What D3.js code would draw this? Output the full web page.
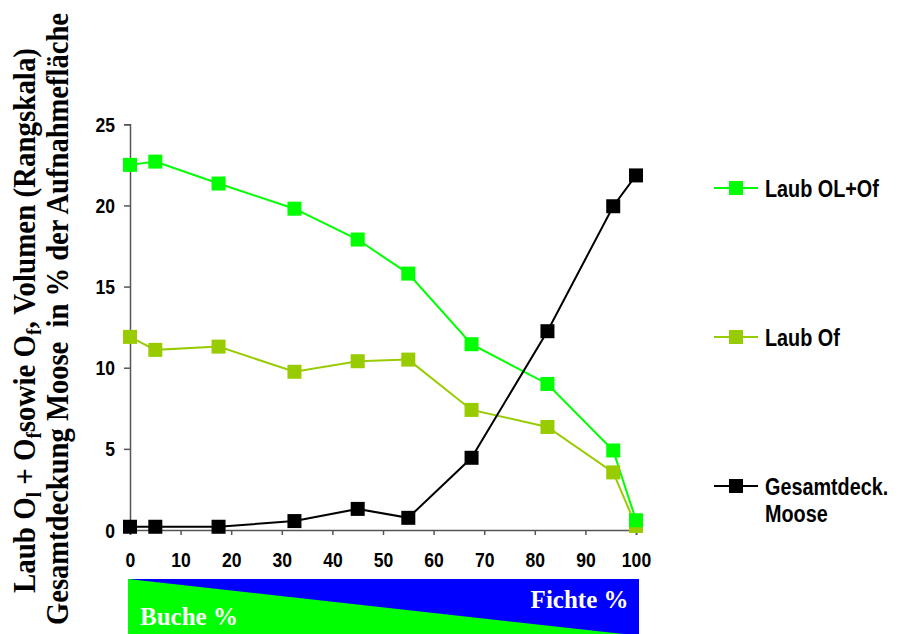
<!DOCTYPE html>
<html><head><meta charset="utf-8">
<script src="https://cdn.jsdelivr.net/npm/d3@7/dist/d3.min.js"></script>
<style>body{margin:0;background:#fff}svg{display:block}</style>
</head><body>
<svg id="c" width="906" height="634"></svg>
<script>
const xValues = [0, 5, 17.5, 32.5, 45, 55, 67.5, 82.5, 95.5, 100];
const laubOLOf = [22.5, 22.7, 21.35, 19.8, 17.9, 15.8, 11.45, 9.0, 4.9, 0.6];
const laubOf = [11.9, 11.1, 11.3, 9.75, 10.4, 10.5, 7.4, 6.35, 3.55, 0.25];
const moose = [0.2, 0.2, 0.2, 0.55, 1.3, 0.75, 4.45, 12.25, 19.95, 21.85];
const seriesNames = ["Laub OL+Of", "Laub Of", "Gesamtdeck.|Moose"];
const seriesColors = ["#00ff00", "#99cc00", "#000000"];
const xTicks = [0,10,20,30,40,50,60,70,80,90,100];
const yTicks = [0,5,10,15,20,25];

const svg = d3.select("#c");
const x = d3.scaleLinear().domain([0,100]).range([130,636]);
const y = d3.scaleLinear().domain([0,25]).range([530,124.3]);

function squeeze(sel, f){
  sel.each(function(){
    const L = this.getComputedTextLength();
    d3.select(this).attr("textLength", L*f).attr("lengthAdjust","spacingAndGlyphs");
  });
}

// axes
const ya = svg.append("g").attr("transform","translate(130,0)")
  .call(d3.axisLeft(y).tickValues(yTicks).tickSize(6).tickPadding(9));
const xa = svg.append("g").attr("transform","translate(0,530)")
  .call(d3.axisBottom(x).tickValues(xTicks).tickSize(5).tickPadding(18));
[ya,xa].forEach(a=>{
  a.select(".domain").attr("stroke","#555").attr("stroke-width",1.5);
  a.selectAll(".tick line").attr("stroke","#555").attr("stroke-width",1.5);
  a.selectAll("text").attr("font-family","Liberation Sans, Arial, sans-serif")
   .attr("font-weight","bold").attr("font-size",19.5).attr("fill","#000");
});
ya.selectAll("text").attr("dy","0.36em");
xa.selectAll("text").attr("dy","0.7em");
squeeze(ya.selectAll("text"), 0.9);
squeeze(xa.selectAll("text"), 0.9);

// series
const data = [laubOf, laubOLOf, moose];
const cols = [seriesColors[1], seriesColors[0], seriesColors[2]];
const line = d3.line().x((d,i)=>x(xValues[i])).y(d=>y(d));
data.forEach((s,k)=>{
  svg.append("path").datum(s).attr("d",line).attr("fill","none")
    .attr("stroke",cols[k]).attr("stroke-width",2);
});
data.forEach((s,k)=>{
  svg.append("g").selectAll("rect").data(s).join("rect")
    .attr("x",(d,i)=>x(xValues[i])-7).attr("y",d=>y(d)-7)
    .attr("width",14).attr("height",14).attr("fill",cols[k]);
});

// legend
const legY = [188, 337, 486];
seriesNames.forEach((n,k)=>{
  const g = svg.append("g").attr("transform",`translate(714,${legY[k]})`);
  g.append("line").attr("x1",0).attr("x2",44).attr("stroke",seriesColors[k]).attr("stroke-width",2);
  g.append("rect").attr("x",15).attr("y",-7).attr("width",14).attr("height",14).attr("fill",seriesColors[k]);
  n.split("|").forEach((p,i)=>{
    const t = g.append("text").attr("x",51).attr("y",9 + i*27)
      .attr("font-family","Liberation Sans, Arial, sans-serif").attr("font-weight","bold")
      .attr("font-size",23).attr("fill","#000").text(p);
    squeeze(t, 0.86);
  });
});

// y titles
const tt = svg.append("g").attr("font-family","Liberation Serif, Times New Roman, serif")
  .attr("font-weight","bold").attr("font-size",32).attr("fill","#000");
const t1 = tt.append("text").attr("transform","translate(35,320.5) rotate(-90)").attr("text-anchor","middle");
const parts = [["Laub O",0],["l",1],[" + O",0],["f",1],["sowie O",0],["f",1],[", Volumen (Rangskala)",0]];
parts.forEach(([s,sub])=>{
  const ts = t1.append("tspan").text(s);
  if(sub) ts.attr("font-size",21).attr("baseline-shift","-30%");
});
t1.attr("textLength",545).attr("lengthAdjust","spacingAndGlyphs");
tt.append("text").attr("transform","translate(68,319) rotate(-90)").attr("text-anchor","middle")
  .attr("xml:space","preserve").text("Gesamtdeckung Moose  in % der Aufnahmefläche")
  .attr("textLength",612).attr("lengthAdjust","spacingAndGlyphs");

// bottom band
const bTop = 579, bBot = 634;
svg.append("rect").attr("x",x(0)-2).attr("y",bTop).attr("width",x(100)-x(0)+5).attr("height",bBot-bTop).attr("fill","#0000ff");
svg.append("path").attr("d",`M${x(0)-2},${bTop}L${x(97.5)},${bBot}L${x(0)-2},${bBot}Z`).attr("fill","#00ff00");
const bt = svg.append("g").attr("font-family","Liberation Serif, Times New Roman, serif")
  .attr("font-weight","bold").attr("font-size",25).attr("fill","#fff");
bt.append("text").attr("x",140).attr("y",625).text("Buche %");
bt.append("text").attr("x",628.5).attr("y",608).attr("text-anchor","end").text("Fichte %");
</script>
</body></html>
